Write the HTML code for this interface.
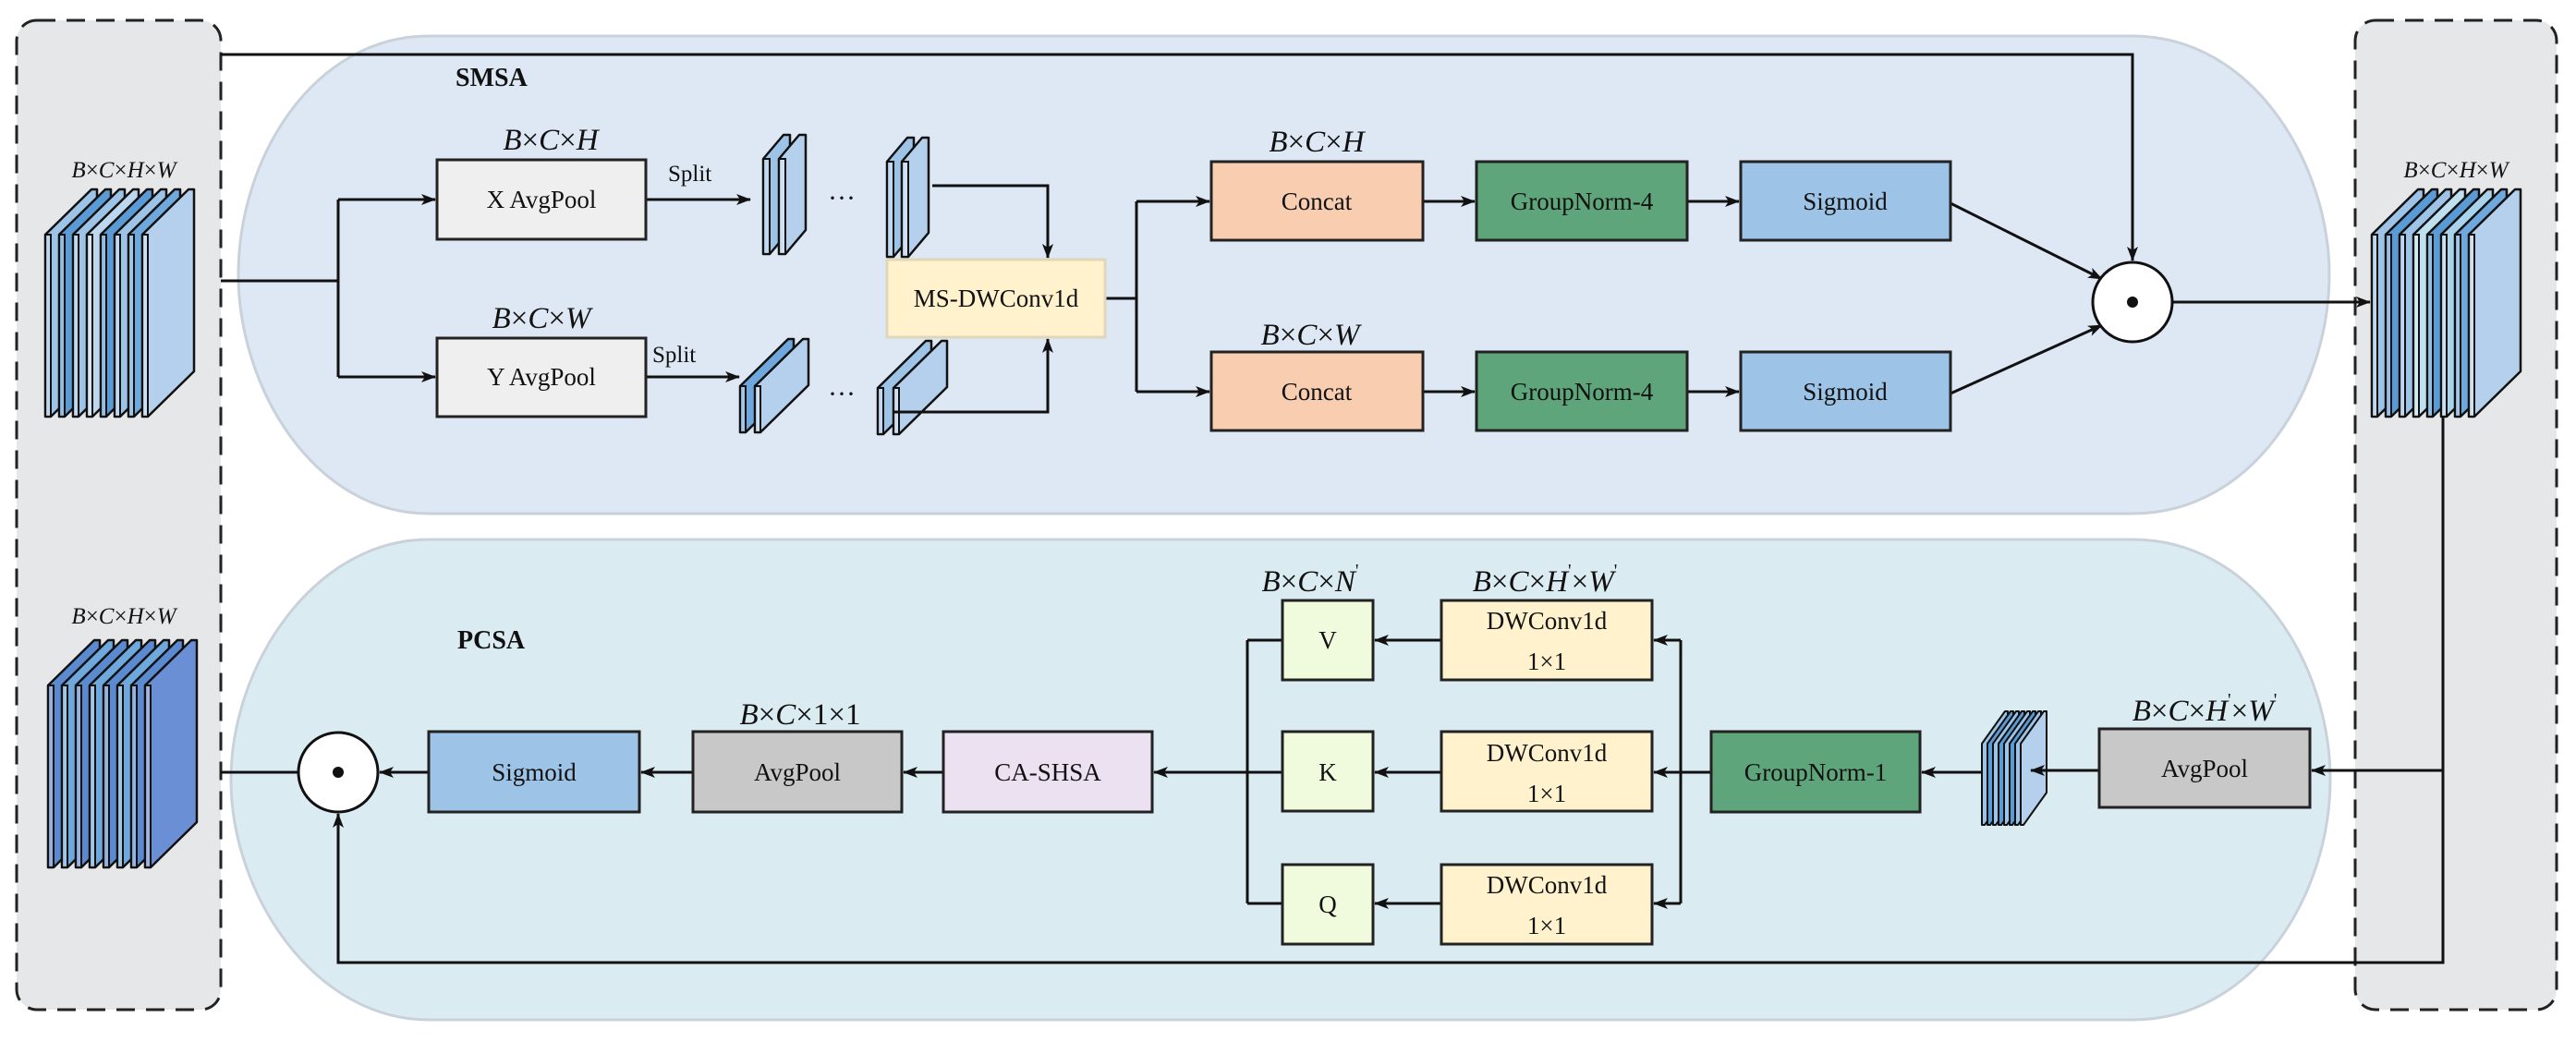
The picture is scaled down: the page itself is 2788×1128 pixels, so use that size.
<!DOCTYPE html>
<html><head><meta charset="utf-8"><style>
html,body{margin:0;padding:0;background:#fff}
svg{display:block}
text{font-family:"Liberation Serif",serif;fill:#111}
.b{font-size:27px;text-anchor:middle;dominant-baseline:central}
.m{font-size:33px;font-style:italic;text-anchor:middle}
.s{font-size:25px;font-style:italic;text-anchor:middle}
.n{font-style:normal}
</style></head><body>
<svg width="2788" height="1128" viewBox="0 0 2788 1128" xmlns="http://www.w3.org/2000/svg">
<defs>
<marker id="a" viewBox="0 0 16 12" refX="15" refY="6" markerWidth="16" markerHeight="12" markerUnits="userSpaceOnUse" orient="auto"><path d="M0,0 L16,6 L0,12 L4,6 Z" fill="#111"/></marker>
<g id="pA"><polygon points="0,49 50,0 56,0 56,197 6,246 0,246" stroke="#111" stroke-width="2.5" stroke-linejoin="round"/><rect x="0" y="49" width="6" height="197" fill="#fff" fill-opacity="0.35" stroke="#111" stroke-width="2"/></g>
<g id="pB"><polygon points="0,26 22,0 29,0 29,103 7,129 0,129" stroke="#111" stroke-width="2.5" stroke-linejoin="round"/><rect x="0" y="26" width="7" height="103" fill="#fff" fill-opacity="0.35" stroke="#111" stroke-width="2"/></g>
<g id="pC"><polygon points="0,51 52,0 58,0 58,50 6,101 0,101" stroke="#111" stroke-width="2.5" stroke-linejoin="round"/><rect x="0" y="51" width="6" height="50" fill="#fff" fill-opacity="0.35" stroke="#111" stroke-width="2"/></g>
<g id="pD"><polygon points="0,35 25,0 28,0 28,88 3,123 0,123" stroke="#111" stroke-width="2" stroke-linejoin="round"/></g>
</defs>

<!-- side panels -->
<rect x="18" y="22" width="221" height="1071" rx="22" fill="#e6e7e8" stroke="#222" stroke-width="3" stroke-dasharray="20 12"/>
<rect x="2549" y="22" width="218" height="1071" rx="22" fill="#e6e7e8" stroke="#222" stroke-width="3" stroke-dasharray="20 12"/>

<!-- blobs -->
<path d="M464,39 L2308,39 C2440,39 2521,180 2521,297 C2521,420 2440,556 2308,556 L464,556 C340,556 258,420 258,297 C258,170 340,39 464,39 Z" fill="#dde8f4" stroke="#c9d2da" stroke-width="3"/>
<path d="M464,584 L2308,584 C2440,584 2522,720 2522,844 C2522,968 2440,1104 2308,1104 L464,1104 C340,1104 250,968 250,844 C250,720 340,584 464,584 Z" fill="#daebf2" stroke="#c9d2da" stroke-width="3"/>

<text x="493" y="93" font-size="28" font-weight="bold">SMSA</text>
<text x="495" y="702" font-size="28" font-weight="bold">PCSA</text>

<!-- stacks -->
<g>
<use href="#pA" x="49" y="205" fill="#9dc3e6"/><use href="#pA" x="64" y="205" fill="#5b9bd5"/><use href="#pA" x="79" y="205" fill="#9dc3e6"/><use href="#pA" x="94" y="205" fill="#bdd7ee"/><use href="#pA" x="109" y="205" fill="#5b9bd5"/><use href="#pA" x="124" y="205" fill="#9dc3e6"/><use href="#pA" x="139" y="205" fill="#6fa8dc"/><use href="#pA" x="154" y="205" fill="#b4d0ec"/>
</g>
<g>
<use href="#pA" x="2567" y="205" fill="#9dc3e6"/><use href="#pA" x="2582" y="205" fill="#5b9bd5"/><use href="#pA" x="2597" y="205" fill="#9dc3e6"/><use href="#pA" x="2612" y="205" fill="#bfe0ee"/><use href="#pA" x="2627" y="205" fill="#5b9bd5"/><use href="#pA" x="2642" y="205" fill="#a9d3ea"/><use href="#pA" x="2657" y="205" fill="#6fa8dc"/><use href="#pA" x="2672" y="205" fill="#b4d0ec"/>
</g>
<g>
<use href="#pA" x="52" y="693" fill="#5b8ad0"/><use href="#pA" x="67" y="693" fill="#6fa8dc"/><use href="#pA" x="82" y="693" fill="#5b8ad0"/><use href="#pA" x="97" y="693" fill="#6fa8dc"/><use href="#pA" x="112" y="693" fill="#5b8ad0"/><use href="#pA" x="127" y="693" fill="#6fa8dc"/><use href="#pA" x="142" y="693" fill="#5b8ad0"/><use href="#pA" x="157" y="693" fill="#6b8fd4"/>
</g>
<use href="#pB" x="826" y="146" fill="#9dc3e6"/><use href="#pB" x="843" y="146" fill="#b4d0ec"/>
<use href="#pB" x="960" y="149" fill="#9dc3e6"/><use href="#pB" x="976" y="149" fill="#b4d0ec"/>
<use href="#pC" x="801" y="367" fill="#6fa8dc"/><use href="#pC" x="817" y="367" fill="#b4d0ec"/>
<use href="#pC" x="950" y="369" fill="#9dc3e6"/><use href="#pC" x="967" y="369" fill="#b4d0ec"/>
<g>
<use href="#pD" x="2145" y="770" fill="#9dc3e6"/><use href="#pD" x="2151" y="770" fill="#5b9bd5"/><use href="#pD" x="2157" y="770" fill="#9dc3e6"/><use href="#pD" x="2163" y="770" fill="#5b9bd5"/><use href="#pD" x="2169" y="770" fill="#9dc3e6"/><use href="#pD" x="2175" y="770" fill="#5b9bd5"/><use href="#pD" x="2181" y="770" fill="#9dc3e6"/><use href="#pD" x="2187" y="770" fill="#b4d0ec"/>
</g>
<text x="911" y="224" font-size="30" text-anchor="middle">···</text>
<text x="911" y="436" font-size="30" text-anchor="middle">···</text>

<!-- connectors -->
<g fill="none" stroke="#111" stroke-width="3">
<path d="M239,59 H2308 V282" marker-end="url(#a)"/>
<path d="M239,304 H366"/><path d="M366,216 V408"/>
<path d="M366,216 H471" marker-end="url(#a)"/><path d="M366,408 H471" marker-end="url(#a)"/>
<path d="M699,216 H812" marker-end="url(#a)"/><path d="M699,408 H800" marker-end="url(#a)"/>
<path d="M1009,201 H1134 V279" marker-end="url(#a)"/>
<path d="M968,446 H1134 V367" marker-end="url(#a)"/>
<path d="M1196,323 H1230"/><path d="M1230,218 V424"/>
<path d="M1230,218 H1309" marker-end="url(#a)"/><path d="M1230,424 H1309" marker-end="url(#a)"/>
<path d="M1540,218 H1596" marker-end="url(#a)"/><path d="M1540,424 H1596" marker-end="url(#a)"/>
<path d="M1826,218 H1882" marker-end="url(#a)"/><path d="M1826,424 H1882" marker-end="url(#a)"/>
<path d="M2111,220 L2275,302" marker-end="url(#a)"/>
<path d="M2111,426 L2275,352" marker-end="url(#a)"/>
<path d="M2351,327 H2565" marker-end="url(#a)"/>
<path d="M2644,451 V1042 H366 V881" marker-end="url(#a)"/>
<path d="M2644,834 H2502" marker-end="url(#a)"/>
<path d="M2272,834 H2198" marker-end="url(#a)"/>
<path d="M2145,836 H2080" marker-end="url(#a)"/>
<path d="M1852,836 H1790" marker-end="url(#a)"/>
<path d="M1819,693 V978"/>
<path d="M1819,693 H1790" marker-end="url(#a)"/><path d="M1819,978 H1790" marker-end="url(#a)"/>
<path d="M1560,693 H1488" marker-end="url(#a)"/><path d="M1560,836 H1488" marker-end="url(#a)"/><path d="M1560,978 H1488" marker-end="url(#a)"/>
<path d="M1350,693 V978"/>
<path d="M1350,693 H1388"/><path d="M1350,978 H1388"/><path d="M1350,836 H1388"/>
<path d="M1350,836 H1249" marker-end="url(#a)"/>
<path d="M1021,836 H978" marker-end="url(#a)"/>
<path d="M750,836 H694" marker-end="url(#a)"/>
<path d="M464,836 H411" marker-end="url(#a)"/>
<path d="M239,836 H323"/>
</g>

<!-- circles -->
<circle cx="2308" cy="327" r="43" fill="#fff" stroke="#111" stroke-width="3"/><circle cx="2308" cy="327" r="6" fill="#111"/>
<circle cx="366" cy="836" r="43" fill="#fff" stroke="#111" stroke-width="3"/><circle cx="366" cy="836" r="6" fill="#111"/>

<!-- boxes -->
<g stroke="#222" stroke-width="3">
<rect x="473" y="173" width="226" height="86" fill="#efefef"/>
<rect x="473" y="366" width="226" height="85" fill="#efefef"/>
<rect x="960" y="281" width="236" height="84" fill="#fff2cc" stroke="#e0d6b8"/>
<rect x="1311" y="175" width="229" height="85" fill="#f8cdb0"/>
<rect x="1311" y="381" width="229" height="85" fill="#f8cdb0"/>
<rect x="1598" y="175" width="228" height="85" fill="#5fa57b"/>
<rect x="1598" y="381" width="228" height="85" fill="#5fa57b"/>
<rect x="1884" y="175" width="227" height="85" fill="#9dc3e6"/>
<rect x="1884" y="381" width="227" height="85" fill="#9dc3e6"/>
<rect x="464" y="792" width="228" height="87" fill="#9dc3e6"/>
<rect x="750" y="792" width="226" height="87" fill="#c8c8c8"/>
<rect x="1021" y="792" width="226" height="87" fill="#ebe1f1"/>
<rect x="1388" y="650" width="98" height="86" fill="#f0fadc"/>
<rect x="1388" y="792" width="98" height="86" fill="#f0fadc"/>
<rect x="1388" y="936" width="98" height="86" fill="#f0fadc"/>
<rect x="1560" y="650" width="228" height="86" fill="#fff2cc"/>
<rect x="1560" y="792" width="228" height="86" fill="#fff2cc"/>
<rect x="1560" y="936" width="228" height="86" fill="#fff2cc"/>
<rect x="1852" y="792" width="226" height="87" fill="#5fa57b"/>
<rect x="2272" y="789" width="228" height="85" fill="#c8c8c8"/>
</g>

<!-- box text -->
<text class="b" x="586" y="216">X AvgPool</text>
<text class="b" x="586" y="408">Y AvgPool</text>
<text class="b" x="1078" y="323">MS-DWConv1d</text>
<text class="b" x="1425" y="218">Concat</text>
<text class="b" x="1425" y="424">Concat</text>
<text class="b" x="1712" y="218">GroupNorm-4</text>
<text class="b" x="1712" y="424">GroupNorm-4</text>
<text class="b" x="1997" y="218">Sigmoid</text>
<text class="b" x="1997" y="424">Sigmoid</text>
<text class="b" x="578" y="836">Sigmoid</text>
<text class="b" x="863" y="836">AvgPool</text>
<text class="b" x="1134" y="836">CA-SHSA</text>
<text class="b" x="1437" y="693">V</text>
<text class="b" x="1437" y="836">K</text>
<text class="b" x="1437" y="979">Q</text>
<text class="b" x="1674" y="672">DWConv1d</text><text class="b" x="1674" y="716">1×1</text>
<text class="b" x="1674" y="815">DWConv1d</text><text class="b" x="1674" y="859">1×1</text>
<text class="b" x="1674" y="958">DWConv1d</text><text class="b" x="1674" y="1002">1×1</text>
<text class="b" x="1965" y="836">GroupNorm-1</text>
<text class="b" x="2386" y="832">AvgPool</text>
<text x="723" y="196" font-size="25">Split</text>
<text x="706" y="392" font-size="25">Split</text>

<!-- math labels -->
<text class="s" x="134" y="192">B<tspan class="n">×</tspan>C<tspan class="n">×</tspan>H<tspan class="n">×</tspan>W</text>
<text class="s" x="2658" y="192">B<tspan class="n">×</tspan>C<tspan class="n">×</tspan>H<tspan class="n">×</tspan>W</text>
<text class="s" x="134" y="675">B<tspan class="n">×</tspan>C<tspan class="n">×</tspan>H<tspan class="n">×</tspan>W</text>
<text class="m" x="596" y="162">B<tspan class="n">×</tspan>C<tspan class="n">×</tspan>H</text>
<text class="m" x="586" y="355">B<tspan class="n">×</tspan>C<tspan class="n">×</tspan>W</text>
<text class="m" x="1425" y="164">B<tspan class="n">×</tspan>C<tspan class="n">×</tspan>H</text>
<text class="m" x="1418" y="373">B<tspan class="n">×</tspan>C<tspan class="n">×</tspan>W</text>
<text class="m" x="866" y="784">B<tspan class="n">×</tspan>C<tspan class="n">×1×1</tspan></text>
<text class="m" x="1418" y="640">B<tspan class="n">×</tspan>C<tspan class="n">×</tspan>N<tspan class="n" font-size="20" dy="-16">'</tspan></text>
<text class="m" x="1672" y="640">B<tspan class="n">×</tspan>C<tspan class="n">×</tspan>H<tspan class="n" font-size="20" dy="-16">'</tspan><tspan class="n" dy="16">×</tspan>W<tspan class="n" font-size="20" dy="-16">'</tspan></text>
<text class="m" x="2386" y="780">B<tspan class="n">×</tspan>C<tspan class="n">×</tspan>H<tspan class="n" font-size="20" dy="-16">'</tspan><tspan class="n" dy="16">×</tspan>W<tspan class="n" font-size="20" dy="-16">'</tspan></text>
</svg>
</body></html>
